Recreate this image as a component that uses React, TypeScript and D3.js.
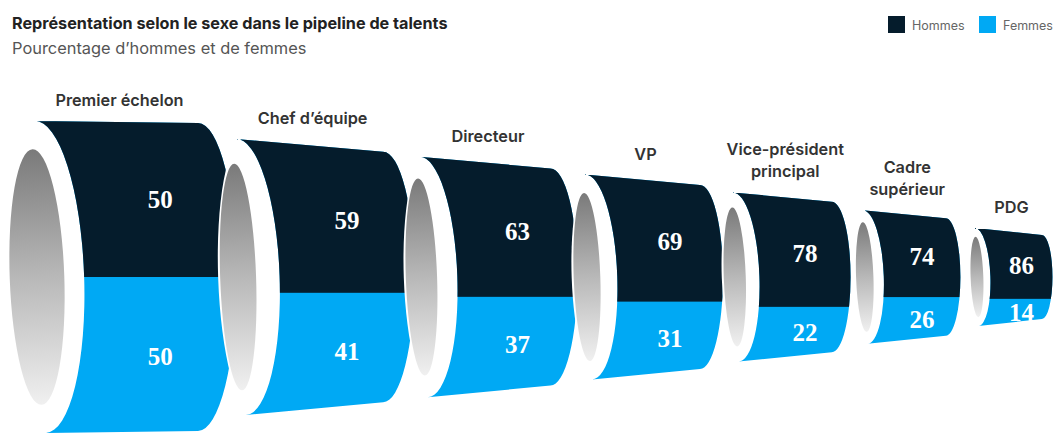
import React from "react";
import * as d3 from "d3";

const CATEGORIES = [
  "Premier échelon",
  "Chef d’équipe",
  "Directeur",
  "VP",
  "Vice-président\nprincipal",
  "Cadre\nsupérieur",
  "PDG",
];
const MEN = [50, 59, 63, 69, 78, 74, 86];
const WOMEN = [50, 41, 37, 31, 22, 26, 14];
const SERIES = ["Hommes", "Femmes"];

const TITLE = "Représentation selon le sexe dans le pipeline de talents";
const SUBTITLE = "Pourcentage d’hommes et de femmes";

const COLORS = ["#051c2c", "#00a9f4"];
const W = 1056;
const H = 438;
const CY = 277;
const TILT = -2;
const SANS = "Inter, Roboto, 'Noto Sans', sans-serif";
const SERIF = "'Liberation Serif', 'DejaVu Serif', serif";

type P = [number, number];
const fmt = (p: P) => `${p[0].toFixed(2)},${p[1].toFixed(2)}`;

export default function App() {
  const n = CATEGORIES.length;
  const idx = d3.range(n);
  const r0Scale = d3.scaleLinear().domain([0, n - 1]).range([156, 49]);
  const taperScale = d3.scaleLinear().domain([0, 1, n - 1]).range([2, 13, 7]);
  const lenScale = d3.scaleLinear().domain([0, n - 1]).range([163, 67]);
  const xStart = (i: number) => 35 + 210 * i - 8.89 * i * i;
  const phi = (TILT * Math.PI) / 180;
  const s = Math.sin(phi);
  const c = Math.cos(phi);

  const segs = idx.map((i) => {
    const R0 = r0Scale(i);
    const R1 = R0 - taperScale(i);
    const xL = xStart(i);
    const xR = xL + lenScale(i);
    const rx0 = 0.28 * R0;
    const rx1 = 0.25 * R1;
    const cxL = xL - R0 * s;
    const pt = (t: number): P => [
      cxL + rx0 * Math.cos(t) * c - R0 * Math.sin(t) * s,
      CY + rx0 * Math.cos(t) * s + R0 * Math.sin(t) * c,
    ];
    const topL = pt(-Math.PI / 2);
    const midL = pt(0);
    const botL = pt(Math.PI / 2);
    const topR: P = [xR, CY - R1];
    const midR: P = [xR + rx1, CY];
    const botR: P = [xR, CY + R1];
    const d =
      `M${fmt(topL)} L${fmt(topR)} A${rx1},${R1} 0 0 1 ${fmt(midR)} A${rx1},${R1} 0 0 1 ${fmt(botR)} ` +
      `L${fmt(botL)} A${rx0},${R0} ${TILT} 0 0 ${fmt(midL)} A${rx0},${R0} ${TILT} 0 0 ${fmt(topL)} Z`;

    const rxG = R0 * (i === 0 ? 0.175 : 0.13);
    const cxG = xL + 2;
    const ryG = 0.82 * R0;
    const wLeft = cxG - rxG - 2;
    const wRight = midL[0];
    const cxW = (wLeft + wRight) / 2;
    const rxW = (wRight - wLeft) / 2;

    const Rm = (R0 + R1) / 2;
    const ys = d3.scaleLinear().domain([-25, 125]).range([CY - Rm, CY + Rm]);
    const ySplit = ys(MEN[i]);

    const lx = (midL[0] + midR[0]) / 2;
    const f = Math.max(0, Math.min(1, (lx - topL[0]) / (topR[0] - topL[0])));
    const topY = topL[1] + (topR[1] - topL[1]) * f;
    const fb = Math.max(0, Math.min(1, (lx - botL[0]) / (botR[0] - botL[0])));
    const botY = botL[1] + (botR[1] - botL[1]) * fb;

    return {
      i, R0, R1, xL, xR, d, rxG, cxG, ryG, cxW, rxW, ySplit, lx,
      menY: (topY + ySplit) / 2,
      womenY: (ySplit + botY) / 2 + 2,
      labelX: (xL + xR) / 2 + 3,
      labelY: CY - R0 - 21,
    };
  });

  return (
    <svg
      width={W}
      height={H}
      viewBox={`0 0 ${W} ${H}`}
      style={{ position: "absolute", left: 0, top: 0, background: "#fff" }}
    >
      <defs>
        <linearGradient id="pipeInner" x1="0" y1="0" x2="0" y2="1">
          <stop offset="0" stopColor="#7a7a7a" />
          <stop offset="0.5" stopColor="#b8b8b8" />
          <stop offset="1" stopColor="#f0f0f0" />
        </linearGradient>
        {segs.map((g) => (
          <clipPath id={`body-${g.i}`} key={g.i}>
            <path d={g.d} />
          </clipPath>
        ))}
      </defs>

      <text x={12} y={29} fontFamily={SANS} fontWeight={700} fontSize={16.2} fill="#222">
        {TITLE}
      </text>
      <text x={12} y={54} fontFamily={SANS} fontWeight={400} fontSize={16.4} fill="#555">
        {SUBTITLE}
      </text>

      <g fontFamily={SANS} fontSize={12.5} fill="#666">
        {SERIES.map((name, k) => {
          const x0 = k === 0 ? 888 : 979;
          return (
            <g key={name}>
              <rect x={x0} y={16} width={17} height={17} fill={COLORS[k]} />
              <text x={x0 + 24} y={25} dominantBaseline="central">
                {name}
              </text>
            </g>
          );
        })}
      </g>

      {segs.map((g) => (
        <g key={g.i}>
          <ellipse
            cx={g.cxW}
            cy={CY}
            rx={g.rxW}
            ry={g.R0}
            fill="#fff"
            transform={`rotate(${TILT} ${g.cxW} ${CY})`}
          />
          <ellipse
            cx={g.cxG}
            cy={CY}
            rx={g.rxG}
            ry={g.ryG}
            fill="url(#pipeInner)"
            transform={`rotate(${TILT} ${g.cxG} ${CY})`}
          />
          <g clipPath={`url(#body-${g.i})`}>
            <rect x={g.xL - 60} y={0} width={g.xR - g.xL + 140} height={H} fill={COLORS[1]} />
            <rect x={g.xL - 60} y={0} width={g.xR - g.xL + 140} height={g.ySplit} fill={COLORS[0]} />
          </g>
          <text
            x={g.lx}
            y={g.menY}
            textAnchor="middle"
            dominantBaseline="central"
            fontFamily={SERIF}
            fontWeight={700}
            fontSize={25}
            fill="#fff"
          >
            {MEN[g.i]}
          </text>
          <text
            x={g.lx}
            y={g.womenY}
            textAnchor="middle"
            dominantBaseline="central"
            fontFamily={SERIF}
            fontWeight={700}
            fontSize={25}
            fill="#fff"
          >
            {WOMEN[g.i]}
          </text>
          {CATEGORIES[g.i].split("\n").reverse().map((line, j) => (
            <text
              key={j}
              x={g.labelX}
              y={g.labelY - j * 22}
              textAnchor="middle"
              dominantBaseline="central"
              fontFamily={SANS}
              fontWeight={600}
              fontSize={16.3}
              fill="#333"
            >
              {line}
            </text>
          ))}
        </g>
      ))}
    </svg>
  );
}
